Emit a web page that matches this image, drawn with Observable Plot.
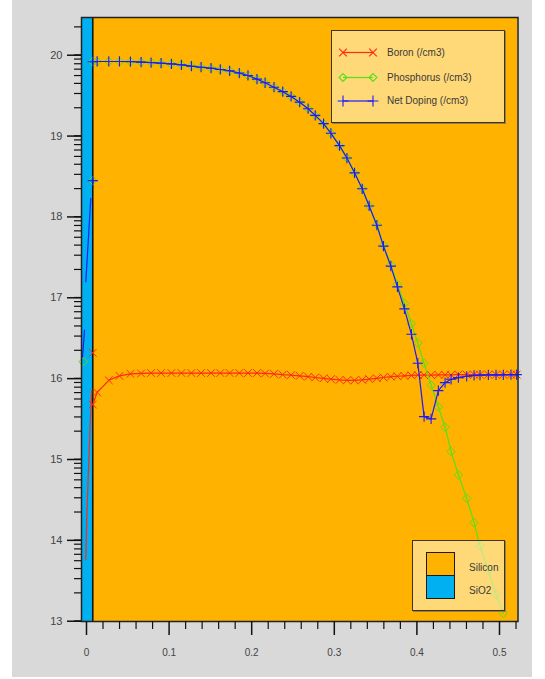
<!DOCTYPE html>
<html><head><meta charset="utf-8">
<script src="https://cdn.jsdelivr.net/npm/d3@7"></script>
<script src="https://cdn.jsdelivr.net/npm/@observablehq/plot@0.6"></script>
<style>
html,body{margin:0;padding:0;background:#fff;}
#wrap{position:relative;width:545px;height:679px;font-family:"Liberation Sans",Arial,sans-serif;overflow:hidden;}
#panel{position:absolute;left:12px;top:0;width:520px;height:677px;background:#d9d9d9;}
#chart{position:absolute;left:0;top:0;}
.leg{position:absolute;box-sizing:border-box;background:rgba(255,240,200,0.6);border:1.5px solid #3d3320;box-shadow:1px 1px 0 #9a8040;}
.lt{position:absolute;font-size:10px;color:#3a3a3a;line-height:12px;white-space:nowrap;}
.sw{position:absolute;box-sizing:border-box;border:1.5px solid #1a1a1a;}
</style></head>
<body>
<div id="wrap"><div id="panel"></div><div id="chart"></div></div>
<script>
// ---- data (depth in µm, log10 concentration in /cm3) ----
const seriesNames = ["Boron (/cm3)", "Phosphorus (/cm3)", "Net Doping (/cm3)"];
const seriesColors = ["#ff2a10", "#55e019", "#1a1aff"];
const regionNames = ["SiO2", "Silicon"];
const regionColors = ["#00b0f0", "#ffb300"];
const regionStart = [-0.00605, 0.0076];
const regionEnd = [0.0076, 0.5224];
const interfaceDepth = [0.0076];

const depth = [0.0076,0.0129,0.027,0.0399,0.0532,0.0661,0.0782,0.0903,0.1028,0.1149,0.127,0.1387,0.1508,0.162,0.1733,0.185,0.1955,0.2064,0.2162,0.227,0.2376,0.2477,0.2581,0.2683,0.2769,0.287,0.2959,0.3063,0.3153,0.3245,0.3338,0.3422,0.3515,0.3595,0.3684,0.3764,0.3849,0.3934,0.4011,0.4087,0.4172,0.426,0.4341,0.4414,0.4502,0.4603,0.4692,0.4764,0.4865,0.4958,0.5046,0.5139,0.5208];
const boron = [15.63,15.78,15.93,15.985,16.01,16.015,16.02,16.02,16.02,16.02,16.02,16.02,16.02,16.02,16.02,16.02,16.02,16.02,16.015,16.01,16.0,15.995,15.985,15.975,15.965,15.955,15.945,15.935,15.93,15.93,15.935,15.945,15.955,15.965,15.975,15.98,15.985,15.99,15.995,15.995,15.995,15.997,15.998,15.998,16.0,16.0,16.0,16.0,16.0,16.0,16.0,16.0,16.0];
const phosphorus = [19.87,19.873,19.873,19.873,19.872,19.865,19.86,19.852,19.844,19.832,19.815,19.802,19.79,19.774,19.758,19.73,19.70,19.655,19.61,19.555,19.50,19.441,19.37,19.289,19.206,19.104,18.985,18.832,18.679,18.496,18.30,18.09,17.855,17.60,17.36,17.12,16.88,16.63,16.39,16.14,15.87,15.60,15.35,15.05,14.76,14.47,14.17,13.88,13.58,13.28,13.05,null,null];
const netDoping = [19.87,19.873,19.873,19.873,19.872,19.865,19.86,19.852,19.844,19.832,19.815,19.802,19.79,19.774,19.758,19.73,19.70,19.655,19.61,19.555,19.50,19.441,19.37,19.289,19.206,19.104,18.985,18.832,18.679,18.496,18.299,18.086,17.848,17.589,17.342,17.086,16.814,16.499,16.141,15.481,15.453,15.802,15.901,15.943,15.963,15.98,15.99,15.993,15.996,15.997,15.998,16.0,16.0];

// oxide side
const boronOxideDepth = [-0.0008,0.0004,0.0024,0.0045,0.0064];
const boronOxide = [13.71,14.25,14.82,15.40,15.81];
const netOxideDepth = [0.0052,-0.0008,-0.0016,-0.0024,-0.0048];
const netOxide = [18.18,17.15,null,16.55,16.22];
const boronOxideMarkDepth = [0.0076];
const boronOxideMark = [16.27];
const phosOxideMarkDepth = [0.0076,-0.0040];
const phosOxideMark = [18.40,16.16];
const netOxideMarkDepth = [0.0076];
const netOxideMark = [18.40];

// axes
const yMajor = [13,14,15,16,17,18,19,20];
const xMajor = [0,0.1,0.2,0.3,0.4,0.5];
const xLabels = ["0","0.1","0.2","0.3","0.4","0.5"];
const xDomain = [-0.00605, 0.5224];
const yDomain = [12.947, 20.417];

// ---- build tables ----
const si = depth.map((d,i)=>({depth:d, boron:boron[i], phos:phosphorus[i], net:netDoping[i]}));
const regions = regionNames.map((n,i)=>({name:n, x1:regionStart[i], x2:regionEnd[i], color:regionColors[i]}));
const bOx = boronOxideDepth.map((d,i)=>({depth:d, v:boronOxide[i]}));
const nOx = netOxideDepth.map((d,i)=>({depth:d, v:netOxide[i]}));
const bOxM = boronOxideMarkDepth.map((d,i)=>({depth:d, v:boronOxideMark[i]}));
const pOxM = phosOxideMarkDepth.map((d,i)=>({depth:d, v:phosOxideMark[i]}));
const nOxM = netOxideMarkDepth.map((d,i)=>({depth:d, v:netOxideMark[i]}));

const yMinor = [];
for (let e = 12; e <= 20; e++) for (let k = 2; k <= 9; k++) {
  const v = e + Math.log10(k);
  if (v > yDomain[0] && v < yDomain[1]) yMinor.push(v);
}
const xMinor = d3.range(0, 27).map(i => +(i*0.02).toFixed(2)).filter(v => Math.round(v*100) % 10 !== 0);

const [cB, cP, cN] = seriesColors;
const lw = 1.2;
const chart = Plot.plot({
  width: 545, height: 679,
  marginLeft: 81, marginRight: 27.5, marginTop: 17, marginBottom: 58,
  style: {background: "transparent", fontFamily: "'Liberation Sans', Arial, sans-serif", overflow: "visible"},
  x: {domain: xDomain, label: null},
  y: {domain: yDomain, label: null},
  marks: [
    Plot.rect(regions, {x1: "x1", x2: "x2", fill: "color"}),
    Plot.ruleX(interfaceDepth, {stroke: "#151515", strokeWidth: 1.6}),
    // boron
    Plot.line(bOx, {x: "depth", y: "v", stroke: cB, strokeWidth: lw}),
    Plot.line(si, {x: "depth", y: "boron", stroke: cB, strokeWidth: lw}),
    Plot.dot(si, {x: "depth", y: "boron", symbol: "times", stroke: cB, r: 3.6, strokeWidth: 1}),
    Plot.dot(bOxM, {x: "depth", y: "v", symbol: "times", stroke: cB, r: 3.6, strokeWidth: 1}),
    // phosphorus
    Plot.line(si, {x: "depth", y: "phos", stroke: cP, strokeWidth: lw}),
    Plot.dot(si, {x: "depth", y: "phos", symbol: "diamond2", stroke: cP, r: 3.9, strokeWidth: 1}),
    Plot.dot(pOxM, {x: "depth", y: "v", symbol: "diamond2", stroke: cP, r: 3.9, strokeWidth: 1}),
    // net doping
    Plot.line(nOx, {x: "depth", y: "v", stroke: cN, strokeWidth: lw}),
    Plot.line(si, {x: "depth", y: "net", stroke: cN, strokeWidth: lw}),
    Plot.dot(si, {x: "depth", y: "net", symbol: "plus", stroke: cN, r: 3.4, strokeWidth: 1.1}),
    Plot.dot(nOxM, {x: "depth", y: "v", symbol: "plus", stroke: cN, r: 3.4, strokeWidth: 1.1}),
    Plot.frame({stroke: "#222", strokeWidth: 1.5}),
    // axes
    Plot.axisY(yMinor, {tickSize: 7, tickFormat: () => "", stroke: "#111", strokeWidth: 1.2}),
    Plot.axisY(yMajor, {tickSize: 14, tickPadding: 5, tickFormat: d => String(d), fontSize: 11, dy: 4, fill: "#444", stroke: "#111", strokeWidth: 1.5}),
    Plot.axisX(xMinor, {tickSize: 8, tickFormat: () => "", stroke: "#111", strokeWidth: 1.2}),
    Plot.axisX(xMajor, {tickSize: 14, tickPadding: 13, tickFormat: d => xLabels[xMajor.indexOf(d)], fontSize: 10, fill: "#444", stroke: "#111", strokeWidth: 1.5})
  ]
});
document.getElementById("chart").appendChild(chart);

// ---- legends (HTML overlays) ----
const wrap = document.getElementById("wrap");
const leg1 = document.createElement("div");
leg1.className = "leg";
Object.assign(leg1.style, {left: "331px", top: "30px", width: "174px", height: "93px"});
const symbols = [d3.symbolTimes, d3.symbolDiamond2, d3.symbolPlus];
const symSize = [40, 40, 40];
let svgS = `<svg width="174" height="93" style="position:absolute;left:0;top:0">`;
seriesNames.forEach((n, i) => {
  const y = [21.5, 46.5, 70][i];
  svgS += `<line x1="11" x2="41" y1="${y}" y2="${y}" stroke="${seriesColors[i]}" stroke-width="1.2"/>`;
  const p = d3.symbol(symbols[i], symSize[i])();
  [11, 41].forEach(x => { svgS += `<path d="${p}" transform="translate(${x},${y})" fill="none" stroke="${seriesColors[i]}" stroke-width="1.1"/>`; });
});
svgS += `</svg>`;
leg1.innerHTML = svgS + seriesNames.map((n, i) => `<div class="lt" style="left:55px;top:${[15.5, 40.5, 64][i]}px">${n}</div>`).join("");
wrap.appendChild(leg1);

const leg2 = document.createElement("div");
leg2.className = "leg";
Object.assign(leg2.style, {left: "412px", top: "540px", width: "93px", height: "71px"});
leg2.innerHTML =
  `<div class="sw" style="left:13px;top:11px;width:29px;height:24px;background:${regionColors[1]}"></div>` +
  `<div class="sw" style="left:13px;top:33.5px;width:29px;height:24px;background:${regionColors[0]}"></div>` +
  `<div class="lt" style="left:56px;top:21px">${regionNames[1]}</div>` +
  `<div class="lt" style="left:56px;top:44px">${regionNames[0]}</div>`;
wrap.appendChild(leg2);
</script>
</body></html>
